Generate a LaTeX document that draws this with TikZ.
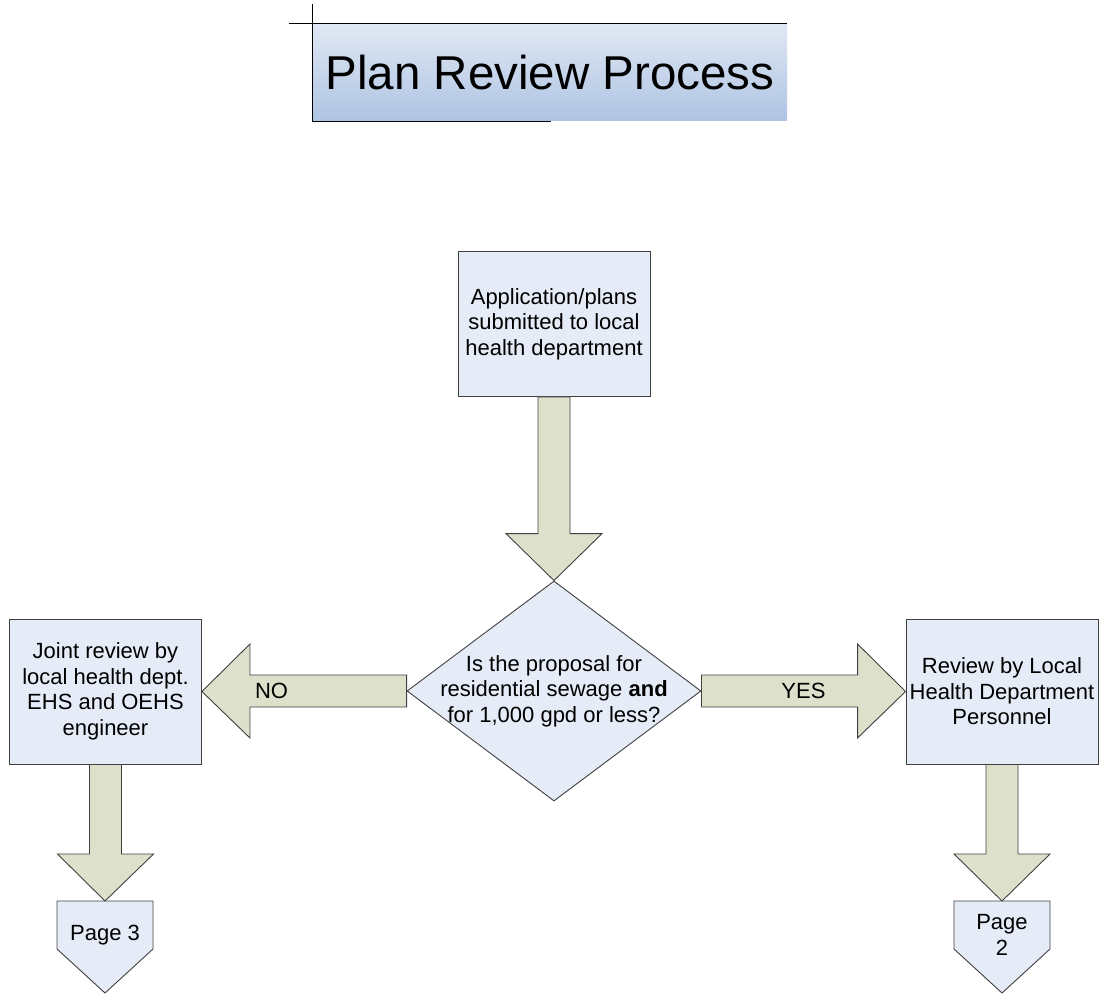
\documentclass[tikz,border=0pt]{standalone}
\usepackage{fontspec}
\setmainfont{Liberation Sans}
\usetikzlibrary{shapes.geometric,calc}
\definecolor{boxfill}{RGB}{230,236,247}
\definecolor{arrowfill}{RGB}{221,225,203}
\definecolor{edgegray}{RGB}{64,64,64}
\definecolor{titletop}{RGB}{224,232,244}
\definecolor{titlebottom}{RGB}{174,195,227}

\begin{document}
\begin{tikzpicture}[x=1pt,y=-1pt,
    txt/.style={font=\fontsize{22}{25.5}\selectfont,align=center},
    box/.style={txt,draw=edgegray,fill=boxfill,line width=0.9pt,inner sep=2pt,minimum width=192pt,minimum height=145pt},
    blockarrow/.style={draw=edgegray,fill=arrowfill,line width=0.9pt},
    titleline/.style={line width=1.3pt}]
    \useasboundingbox (0,0) rectangle (1101,995);
    \node[top color=titletop,bottom color=titlebottom,minimum width=474pt,minimum height=97pt,
        font=\fontsize{47.5}{52}\selectfont] (title) at (550,72.5) {Plan Review Process};
    \draw[titleline] ([xshift=-24pt]title.north west) -- (title.north east)
        ([yshift=20pt]title.north west) -- (title.south west) -- ([xshift=238pt]title.south west);
    \node[box] (app) at (554,324) {Application/plans\\submitted to local\\health department};
    \node[diamond,draw=edgegray,fill=boxfill,line width=0.9pt,inner sep=0pt,minimum width=294pt,minimum height=220pt,
        label={[txt]center:Is the proposal for\\residential sewage \textbf{and}\\for 1,000 gpd or less?}] (q) at (554,691) {};
    \node[box] (joint) at (105.5,691.5) {Joint review by\\local health dept.\\EHS and OEHS\\engineer};
    \node[box] (local) at (1002,691.5) {Review by Local\\Health Department\\Personnel};
    \foreach \pg/\px/\lbl in {pthree/105/Page 3,ptwo/1002/Page\\2}{
        \coordinate (\pg-top) at (\px,901);
        \filldraw[draw=edgegray,fill=boxfill,line width=0.9pt] (\pg-top) ++(-48,0) -- ++(96,0) -- ++(0,48) -- ++(-48,44) -- ++(-48,-44) -- cycle;
        \node[txt] (\pg) at (\px,935) {\lbl};
    }
    \foreach \from/\to in {app.south/q.north,joint.south/pthree-top,local.south/ptwo-top}
        \draw[blockarrow] let \p1=(\from), \p2=(\to) in
            (\x1-16pt,\y1) -- (\x1-16pt,\y2+47pt) -- (\x1-48pt,\y2+47pt) -- (\x2,\y2)
            -- (\x1+48pt,\y2+47pt) -- (\x1+16pt,\y2+47pt) -- (\x1+16pt,\y1) -- cycle;
    \draw[blockarrow] let \p1=(q.west), \p2=(joint.east) in
        (\x1,\y1+16pt) -- (\x2+48pt,\y1+16pt) -- (\x2+48pt,\y1+47pt) -- (\x2,\y2)
        -- (\x2+48pt,\y1-47pt) -- (\x2+48pt,\y1-16pt) -- (\x1,\y1-16pt) -- cycle;
    \draw[blockarrow] let \p1=(q.east), \p2=(local.west) in
        (\x1,\y1+16pt) -- (\x2-48pt,\y1+16pt) -- (\x2-48pt,\y1+47pt) -- (\x2,\y2)
        -- (\x2-48pt,\y1-47pt) -- (\x2-48pt,\y1-16pt) -- (\x1,\y1-16pt) -- cycle;
    \node[txt] (no) at ($(joint.east)!0.34!(q.west)$) {NO};
    \node[txt] (yes) at ($(q.east)!0.5!(local.west)$) {YES};
\end{tikzpicture}
\end{document}
